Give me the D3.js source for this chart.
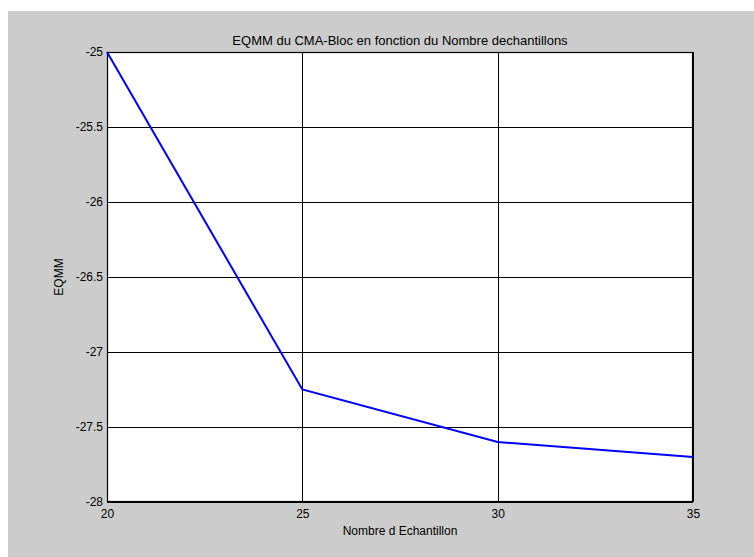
<!DOCTYPE html>
<html><head><meta charset="utf-8">
<script src="https://cdn.jsdelivr.net/npm/d3@7"></script>
<style>body{margin:0;background:#fff;} text{font-family:"Liberation Sans",Arial,sans-serif;}</style>
</head><body>
<svg id="c" width="754" height="557"></svg>
<script>
const xValues = [20, 25, 30, 35];
const eqmm = [-25, -27.25, -27.6, -27.7];
const xTicks = [20, 25, 30, 35];
const yTicks = [-25, -25.5, -26, -26.5, -27, -27.5, -28];
const title = "EQMM du CMA-Bloc en fonction du Nombre dechantillons";
const xLabel = "Nombre d Echantillon";
const yLabel = "EQMM";

const svg = d3.select("#c");
svg.append("rect").attr("x",8).attr("y",11).attr("width",746).attr("height",546).attr("fill","#cccccc");
const L=107,R=693,T=52,B=502;
const x = d3.scaleLinear().domain([20,35]).range([L,R]);
const y = d3.scaleLinear().domain([-28,-25]).range([B,T]);
svg.append("rect").attr("x",L).attr("y",T).attr("width",R-L).attr("height",B-T).attr("fill","#fff");

const g = svg.append("g");
g.selectAll(".vg").data(xTicks).join("line").attr("x1",d=>Math.round(x(d))+0.5).attr("x2",d=>Math.round(x(d))+0.5)
 .attr("y1",T).attr("y2",B).attr("stroke","#000").attr("stroke-width",1);
g.selectAll(".hg").data(yTicks).join("line").attr("y1",d=>Math.round(y(d))+0.5).attr("y2",d=>Math.round(y(d))+0.5)
 .attr("x1",L).attr("x2",R).attr("stroke","#000").attr("stroke-width",1);

const xa = d3.axisBottom(x).tickValues(xTicks).tickSize(0).tickPadding(7).tickFormat(d3.format("d"));
const ya = d3.axisLeft(y).tickValues(yTicks).tickSize(0).tickPadding(4).tickFormat(d=>String(d));
svg.append("g").attr("transform",`translate(0,${B})`).call(xa).call(a=>a.select(".domain").remove())
  .selectAll("text").attr("font-size",12).attr("fill","#000").attr("font-family","Liberation Sans, Arial, sans-serif");
svg.append("g").attr("transform",`translate(${L},0)`).call(ya).call(a=>a.select(".domain").remove())
  .selectAll("text").attr("font-size",12).attr("fill","#000").attr("font-family","Liberation Sans, Arial, sans-serif");

svg.append("rect").attr("x",L+0.5).attr("y",T+0.5).attr("width",R-L-1).attr("height",B-T-1).attr("fill","none").attr("stroke","#000").attr("stroke-width",1.2);

const line = d3.line().x((d,i)=>x(xValues[i])).y(d=>y(d));
svg.append("path").datum(eqmm).attr("d",line).attr("fill","none").attr("stroke","#0000ff").attr("stroke-width",2);

svg.append("text").attr("x",(L+R)/2).attr("y",T-7).attr("text-anchor","middle").attr("font-size",13).text(title);
svg.append("text").attr("x",(L+R)/2).attr("y",B+33).attr("text-anchor","middle").attr("font-size",12).text(xLabel);
svg.append("text").attr("transform",`translate(63,${(T+B)/2}) rotate(-90)`).attr("text-anchor","middle").attr("font-size",12).text(yLabel);
</script>
</body></html>
